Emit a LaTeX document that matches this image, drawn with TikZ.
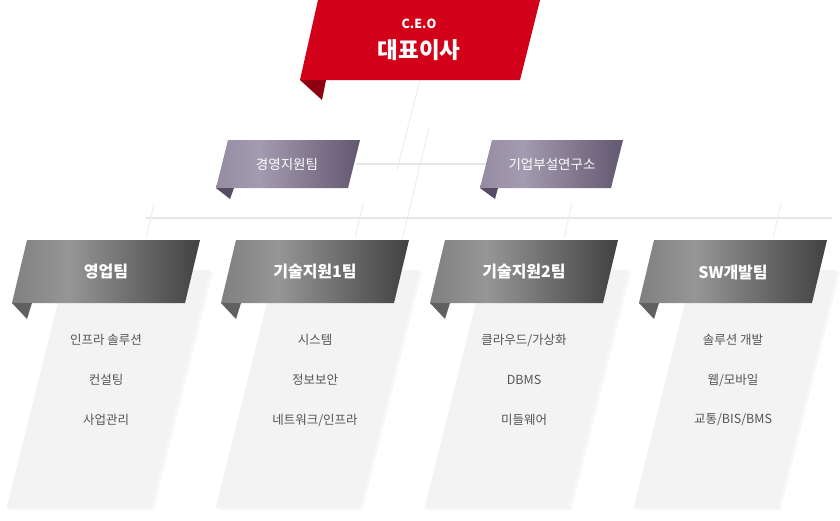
\documentclass[tikz,border=0pt]{standalone}
\usepackage{fontspec}
\newfontfamily\kr{Noto Sans CJK KR}
\usetikzlibrary{shadows}
\definecolor{ceored}{HTML}{D30019}
\definecolor{ceotab}{HTML}{8E0010}
\definecolor{stA}{HTML}{958CA3}
\definecolor{stB}{HTML}{A39BAF}
\definecolor{stC}{HTML}{5C526A}
\definecolor{sttab}{HTML}{564C64}
\definecolor{tmA}{HTML}{808080}
\definecolor{tmB}{HTML}{969696}
\definecolor{tmC}{HTML}{3A3A3A}
\definecolor{tmtab}{HTML}{606060}
\definecolor{panelc}{HTML}{F3F3F3}
\definecolor{itemtxt}{HTML}{555555}
\definecolor{wirec}{HTML}{E6E6E6}
\definecolor{wirel}{HTML}{EEEEEE}
\pgfdeclarehorizontalshading{teamsh}{100bp}{color(0bp)=(tmA); color(25bp)=(tmA); color(40bp)=(tmB); color(78bp)=(tmC); color(100bp)=(tmC)}
\pgfdeclarehorizontalshading{staffsh}{100bp}{color(0bp)=(stA); color(25bp)=(stA); color(40bp)=(stB); color(78bp)=(stC); color(100bp)=(stC)}
\tikzset{
  wire/.style={draw=wirec, line width=1.2pt},
  faintwire/.style={draw=wirel, line width=1pt},
  teamtitle/.style={text=white, font=\kr\bfseries\fontsize{16}{19}\selectfont, inner sep=0pt},
  itemtext/.style={text=itemtxt, font=\kr\fontsize{12.5}{15}\selectfont, inner sep=0pt},
  stafftitle/.style={text=white, font=\kr\fontsize{13.5}{16}\selectfont, inner sep=0pt},
  ceosmall/.style={text=white, font=\kr\bfseries\fontsize{12.5}{15}\selectfont, inner sep=0pt},
  ceobig/.style={text=white, font=\kr\bfseries\fontsize{22.5}{26}\selectfont, inner sep=0pt},
  panelbox/.style={fill=panelc, drop shadow={shadow xshift=3pt, shadow yshift=-2pt, opacity=0.06}},
}
\begin{document}
\begin{tikzpicture}[x=1pt,y=-1pt]
\useasboundingbox (0,0) rectangle (840,520);
\fill[white] (0,0) rectangle (840,520);

% connector coordinates
\coordinate (ceoA) at (420,80);
\coordinate (ceoAend) at (397,170);
\coordinate (ceoB) at (429,128);
\coordinate (ceoBend) at (402,240);
\coordinate (staffL) at (356,164);
\coordinate (staffR) at (486,164);
\coordinate (busL) at (146,218);
\coordinate (busR) at (832,218);
\draw[faintwire] (ceoA) -- (ceoAend);
\draw[faintwire] (ceoB) -- (ceoBend);
\draw[wire] (staffL) -- (staffR);
\draw[wire] (busL) -- (busR);
\foreach \i in {0,1,2,3}{
  \pgfmathsetmacro\dx{209*\i}
  \coordinate (drop\i a) at ({154+\dx},204);
  \coordinate (drop\i b) at ({146+\dx},238);
  \draw[faintwire] (drop\i a) -- (drop\i b);
}

% CEO
\fill[ceored] (318,0) -- (540,0) -- (520,80) -- (300,80) -- cycle;
\fill[ceotab] (300,80) -- (326,80) -- (322,100) -- cycle;
\node[ceosmall] (ceoEn) at (419,24) {C.E.O};
\node[ceobig] (ceo) at (419,50) {대표이사};

% staff
\shade[shading=staffsh] (228,140) -- (360,140) -- (348,188) -- (216,188) -- cycle;
\fill[sttab] (216,188) -- (234,188) -- (230,199) -- cycle;
\node[stafftitle] (staff1) at (287,164) {경영지원팀};
\shade[shading=staffsh] (492,140) -- (623,140) -- (611,188) -- (480,188) -- cycle;
\fill[sttab] (480,188) -- (498,188) -- (495,199) -- cycle;
\node[stafftitle] (staff2) at (552,164) {기업부설연구소};

% teams
\foreach \i/\ttl/\ia/\ib/\ic in {0/영업팀/{인프라 솔루션}/{컨설팅}/{사업관리},1/기술지원1팀/{시스템}/{정보보안}/{네트워크/인프라},2/기술지원2팀/{클라우드/가상화}/{DBMS}/{미들웨어},3/SW개발팀/{솔루션 개발}/{웹/모바일}/{교통/BIS/BMS}}{
  \pgfmathsetmacro\dx{209*\i}
  \fill[panelbox] ({66+\dx},270) -- ({210+\dx},270) -- ({150.5+\dx},508) -- ({6.5+\dx},508) -- cycle;
  \shade[shading=teamsh] ({27+\dx},240) -- ({200+\dx},240) -- ({185+\dx},303) -- ({12+\dx},303) -- cycle;
  \fill[tmtab] ({12+\dx},303) -- ({32+\dx},303) -- ({27+\dx},319) -- cycle;
  \node[teamtitle] (team\i) at ({106+\dx},272) {\ttl};
  \node[itemtext] (item\i a) at ({106+\dx},340) {\ia};
  \node[itemtext] (item\i b) at ({106+\dx},380) {\ib};
  \node[itemtext] (item\i c) at ({106+\dx},420) {\ic};
}
\end{tikzpicture}
\end{document}
